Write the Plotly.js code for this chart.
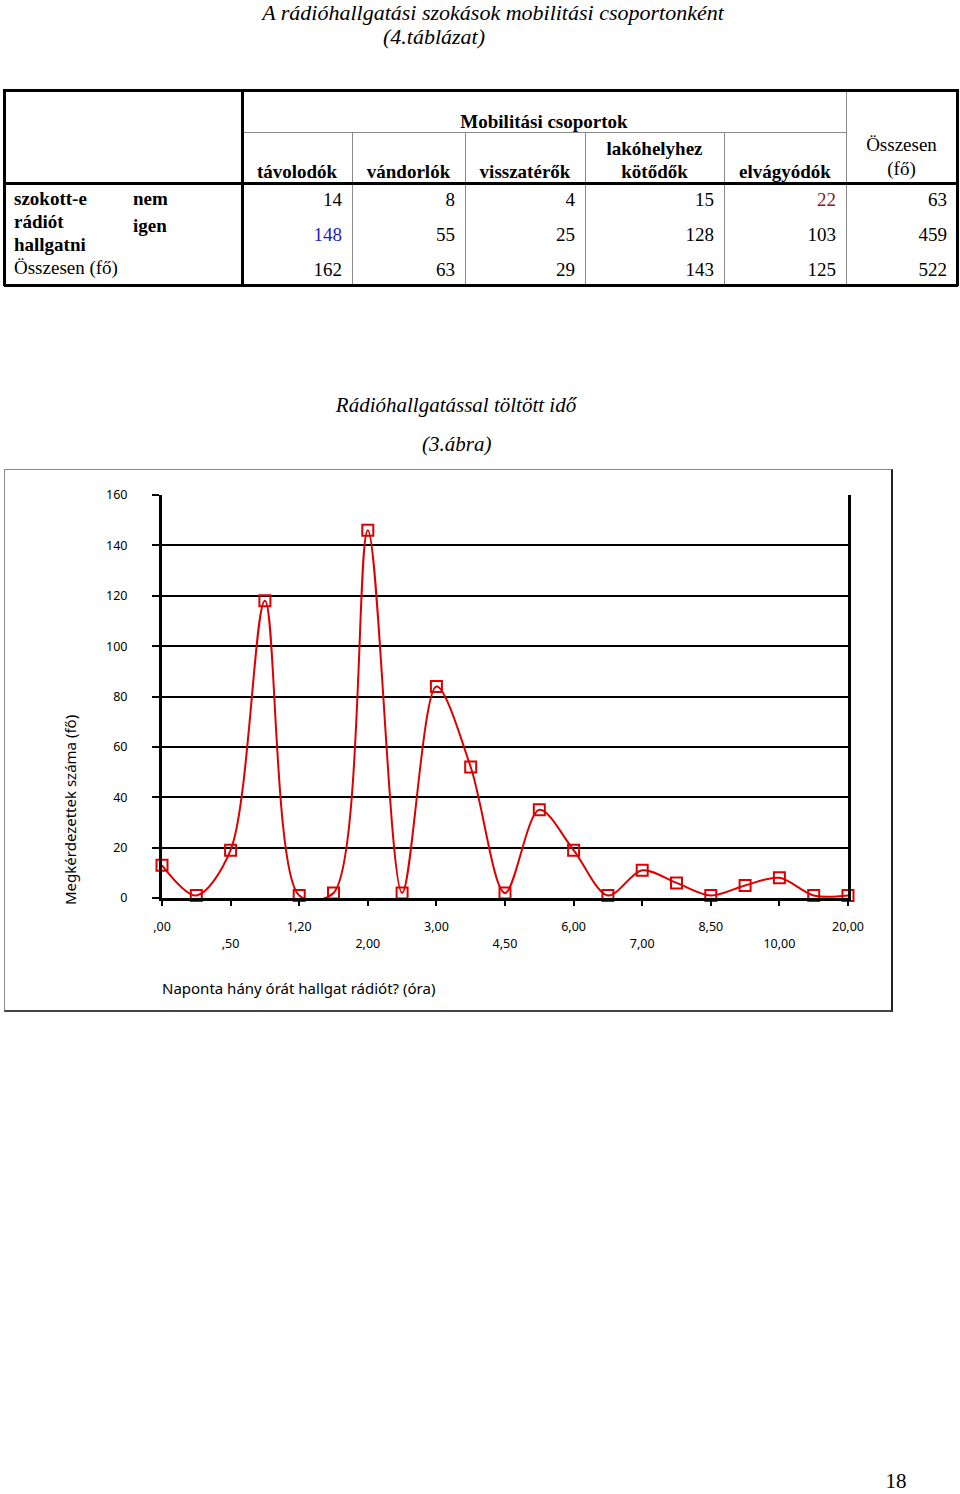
<!DOCTYPE html>
<html><head><meta charset="utf-8">
<script src="https://cdn.plot.ly/plotly-3.0.1.min.js"></script>
<style>
body{margin:0;background:#fff;width:960px;height:1494px;position:relative;overflow:hidden;font-family:"Liberation Serif",serif;}
.t{position:absolute;white-space:nowrap;line-height:1;}
.ln{position:absolute;}
</style></head><body>
<div id="frame" style="position:absolute;left:4px;top:469px;width:886px;height:540px;border:1px solid #888;border-right:2px solid #222;border-bottom:2px solid #444;"></div>
<div id="chart" style="position:absolute;left:0;top:380px;width:960px;height:640px;"></div>
<script>
// ---- table data ----
const tableTitle = ["A rádióhallgatási szokások mobilitási csoportonként", "(4.táblázat)"];
const groupHeader = "Mobilitási csoportok";
const groups = [["távolodók"], ["vándorlók"], ["visszatérők"], ["lakóhelyhez", "kötődők"], ["elvágyódók"]];
const totalHeader = ["Összesen", "(fő)"];
const rowVar = ["szokott-e", "rádiót", "hallgatni"];
const rowCats = ["nem", "igen"];
const totalRowLabel = "Összesen (fő)";
const nemValues = [14, 8, 4, 15, 22, 63];
const igenValues = [148, 55, 25, 128, 103, 459];
const totalValues = [162, 63, 29, 143, 125, 522];

// ---- chart data ----
const hours = [",00", ",30", ",50", "1,00", "1,20", "1,50", "2,00", "2,50", "3,00", "4,00", "4,50",
               "5,00", "6,00", "6,50", "7,00", "8,00", "8,50", "9,00", "10,00", "12,00", "20,00"];
const counts = [13, 1, 19, 118, 1, 2, 146, 2, 84, 52, 2, 35, 19, 1, 11, 6, 1, 5, 8, 1, 1];
const chartTitle = "Rádióhallgatással töltött idő";
const chartSub = "(3.ábra)";
const xTitle = "Naponta hány órát hallgat rádiót? (óra)";
const yTitle = "Megkérdezettek száma (fő)";
const pageNumber = "18";

// ---- helpers ----
function txt(s, x, y, o) {
  o = o || {};
  const d = document.createElement('div');
  d.className = 't';
  d.textContent = s;
  const size = o.size || 19;
  d.style.fontSize = size + 'px';
  d.style.left = x + 'px';
  d.style.top = y + 'px';
  if (o.bold) d.style.fontWeight = 'bold';
  if (o.italic) d.style.fontStyle = 'italic';
  d.style.color = o.color || '#000';
  const tx = o.align === 'center' ? '-50%' : (o.align === 'right' ? '-100%' : '0');
  d.style.transform = 'translate(' + tx + ',-50%)';
  document.body.appendChild(d);
}
function line(x, y, w, h, c) {
  const d = document.createElement('div');
  d.className = 'ln';
  d.style.left = x + 'px'; d.style.top = y + 'px';
  d.style.width = w + 'px'; d.style.height = h + 'px';
  d.style.background = c || '#000';
  document.body.appendChild(d);
}

// ---- titles ----
txt(tableTitle[0], 493, 13, {align: 'center', italic: true, size: 22});
txt(tableTitle[1], 434, 37, {align: 'center', italic: true, size: 22});

// ---- table layout ----
const colEdges = [242, 352, 465, 585, 724, 846, 957];
const T = 90, HMID = 132, HB = 183, B = 285, L = 4;
const thin = '#8a8a8a';
line(colEdges[0], HMID, colEdges[5] - colEdges[0], 1, thin);
for (let i = 1; i <= 4; i++) line(colEdges[i], HMID, 1, B - HMID, thin);
line(colEdges[5], T, 1, B - T, thin);
line(L, T - 1, colEdges[6] - L + 1, 3);
line(L, B - 1, colEdges[6] - L + 1, 3);
line(L - 1, T - 1, 3, B - T + 2);
line(colEdges[6] - 1, T - 1, 3, B - T + 2);
line(colEdges[0] - 1, T - 1, 3, B - T + 2);
line(L, HB - 1, colEdges[6] - L + 1, 3);

txt(groupHeader, (colEdges[0] + colEdges[5]) / 2, 121, {align: 'center', bold: true});
groups.forEach((g, i) => {
  const cx = (colEdges[i] + colEdges[i + 1]) / 2;
  if (g.length === 1) txt(g[0], cx, 171, {align: 'center', bold: true});
  else { txt(g[0], cx, 148, {align: 'center', bold: true}); txt(g[1], cx, 171, {align: 'center', bold: true}); }
});
txt(totalHeader[0], (colEdges[5] + colEdges[6]) / 2, 144, {align: 'center'});
txt(totalHeader[1], (colEdges[5] + colEdges[6]) / 2, 168, {align: 'center'});

txt(rowVar[0], 14, 198, {bold: true});
txt(rowVar[1], 14, 221, {bold: true});
txt(rowVar[2], 14, 244, {bold: true});
txt(rowCats[0], 133, 198, {bold: true});
txt(rowCats[1], 133, 225, {bold: true});
txt(totalRowLabel, 14, 267);

const rowsY = [199, 234, 269];
const colorsNem = ['#000', '#000', '#000', '#000', '#8b1a1a', '#000'];
const colorsIgen = ['#1a1ad0', '#000', '#000', '#000', '#000', '#000'];
[nemValues, igenValues, totalValues].forEach((vals, r) => {
  vals.forEach((v, i) => {
    const c = r === 0 ? colorsNem[i] : (r === 1 ? colorsIgen[i] : '#000');
    txt(String(v), colEdges[i + 1] - 10, rowsY[r], {align: 'right', color: c});
  });
});

txt(pageNumber, 896, 1481, {align: 'center', size: 21});

// ---- chart ----
const evenIdx = hours.map((h, i) => i).filter(i => i % 2 === 0);
const upperIdx = evenIdx.filter((i, k) => k % 2 === 0);
const lowerIdx = evenIdx.filter((i, k) => k % 2 === 1);
const red = '#dc0000';
const tickFont = {family: 'Noto Sans, DejaVu Sans, sans-serif', size: 12.5, color: '#000'};

const pl = 162, pr = 848, pt = 495, pb = 898, top0 = 380;
const px = x => (x - pl) / (pr - pl);
const py = y => (pb - y) / (pb - pt);

const traces = [
  {
    x: hours, y: counts, type: 'scatter', mode: 'lines+markers',
    line: {shape: 'spline', smoothing: 0.9, color: red, width: 2},
    marker: {symbol: 'square-open', size: 11, color: red, line: {width: 2, color: red}},
    cliponaxis: false, hoverinfo: 'x+y', showlegend: false
  },
  {
    x: hours, y: counts, type: 'scatter', mode: 'none', xaxis: 'x2',
    hoverinfo: 'skip', showlegend: false
  }
];

const layout = {
  width: 960, height: 640,
  margin: {l: pl, r: 960 - pr, t: pt - top0, b: 640 - (pb - top0)},
  paper_bgcolor: 'rgba(0,0,0,0)', plot_bgcolor: 'rgba(0,0,0,0)',
  showlegend: false,
  title: {
    text: '<i>' + chartTitle + '</i>',
    font: {family: 'Liberation Serif, serif', size: 21, color: '#000'},
    xref: 'container', x: 456 / 960, xanchor: 'center',
    yref: 'container', y: 1 - (405 - top0) / 640, yanchor: 'middle'
  },
  xaxis: {
    type: 'category', categoryarray: hours, range: [0, hours.length - 1],
    tickvals: evenIdx.map(i => hours[i]),
    ticktext: evenIdx.map(i => upperIdx.includes(i) ? hours[i] : ''),
    ticks: 'outside', ticklen: 5, tickwidth: 2, tickcolor: '#000',
    showline: true, linecolor: '#000', linewidth: 2.5,
    showgrid: false, zeroline: false, tickfont: tickFont, ticklabelstandoff: 10,
    fixedrange: true
  },
  xaxis2: {
    type: 'category', categoryarray: hours, range: [0, hours.length - 1],
    overlaying: 'x', anchor: 'y', side: 'bottom', matches: 'x',
    tickvals: lowerIdx.map(i => hours[i]), ticktext: lowerIdx.map(i => hours[i]),
    ticks: '', showline: false, showgrid: false, zeroline: false,
    tickfont: tickFont, ticklabelstandoff: 36
  },
  yaxis: {
    range: [0, 160], tick0: 0, dtick: 20,
    showgrid: true, gridcolor: '#000', gridwidth: 2,
    ticks: 'outside', ticklen: 7, tickwidth: 2, tickcolor: '#000',
    showline: true, mirror: true, linecolor: '#000', linewidth: 3,
    zeroline: false, tickfont: tickFont, ticklabelstandoff: 22,
    fixedrange: true
  },
  annotations: [
    {text: '<i>' + chartSub + '</i>', xref: 'paper', yref: 'paper', x: px(456), y: py(444),
     xanchor: 'center', yanchor: 'middle', showarrow: false,
     font: {family: 'Liberation Serif, serif', size: 21, color: '#000'}},
    {text: yTitle, xref: 'paper', yref: 'paper', x: px(70), y: py(810), textangle: -90,
     xanchor: 'center', yanchor: 'middle', showarrow: false,
     font: {family: 'Noto Sans, DejaVu Sans, sans-serif', size: 15, color: '#000'}},
    {text: xTitle, xref: 'paper', yref: 'paper', x: px(160), y: py(988),
     xanchor: 'left', yanchor: 'middle', showarrow: false,
     font: {family: 'Noto Sans, DejaVu Sans, sans-serif', size: 15, color: '#000'}}
  ]
};

Plotly.newPlot('chart', traces, layout, {displayModeBar: false, staticPlot: true});
</script>
</body></html>
